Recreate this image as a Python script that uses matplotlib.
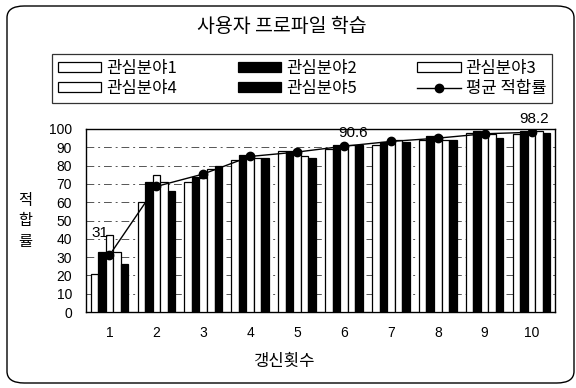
import matplotlib
matplotlib.use("Agg")
import matplotlib.pyplot as plt
import numpy as np
from matplotlib.patches import FancyBboxPatch, Patch
from matplotlib.lines import Line2D

plt.rcParams['font.family'] = ['Noto Sans CJK KR', 'DejaVu Sans']

# Data
updates = [1, 2, 3, 4, 5, 6, 7, 8, 9, 10]
interest1 = [21, 60, 71, 83, 88, 89, 91, 94, 98, 97]
interest2 = [33, 71, 74, 86, 88, 91, 93, 96, 99, 99]
interest3 = [42, 75, 73, 86, 88, 91, 94, 96, 98, 98]
interest4 = [33, 71, 78, 84, 85, 91, 94, 94, 97, 99]
interest5 = [26, 66, 80, 84, 84, 91, 93, 94, 95, 98]
avg_fit = [31, 68.6, 75.4, 85.0, 87.4, 90.6, 93.2, 95.0, 97.4, 98.2]
series_names = ['관심분야1', '관심분야2', '관심분야3', '관심분야4', '관심분야5']
avg_name = '평균 적합률'
labeled_points = {1: '31', 6: '90.6', 10: '98.2'}

series = [interest1, interest2, interest3, interest4, interest5]
fills = ['white', 'black', 'white', 'white', 'black']

W, H = 576, 388
fig = plt.figure(figsize=(W / 100, H / 100), dpi=100)
fig.patch.set_facecolor('white')

# rounded outer frame
frame = FancyBboxPatch((7 / W, 5 / H), 567 / W, 377 / H,
                       boxstyle="round,pad=0,rounding_size=0.03",
                       transform=fig.transFigure, facecolor='none',
                       edgecolor='black', linewidth=1.0)
fig.patches.append(frame)

ax = fig.add_axes([86 / W, 1 - 312 / H, 469 / W, 183 / H])
x = np.array(updates, dtype=float)
bw = 0.16
offsets = (np.arange(5) - 2) * bw
for vals, off, fc in zip(series, offsets, fills):
    ax.bar(x + off, vals, width=bw, facecolor=fc, edgecolor='black',
           linewidth=0.9, zorder=3)

ax.plot(x, avg_fit, color='black', linewidth=1.0, marker='o',
        markersize=6, zorder=5)

label_shift = {1: (-0.2, 8.5), 6: (0.2, 3.5), 10: (0.05, 3.5)}
for k, txt in labeled_points.items():
    i = updates.index(k)
    dx, dy = label_shift[k]
    ax.text(x[i] + dx, avg_fit[i] + dy, txt, ha='center', va='bottom',
            fontsize=11, family='Liberation Sans', zorder=6)

ax.set_xlim(0.5, 10.5)
ax.set_ylim(0, 100)
ax.set_yticks(range(0, 101, 10))
ax.set_xticks(x)
ax.set_xticklabels([str(u) for u in updates], family='Liberation Sans')
ax.tick_params(axis='x', length=0, pad=10, labelsize=10)
ax.tick_params(axis='y', length=0, labelsize=10, pad=10)
for lab in ax.get_yticklabels():
    lab.set_family('Liberation Sans')
ax.yaxis.grid(True, color='#555555', linewidth=0.7,
              linestyle=(0, (8, 4, 2, 4)), zorder=0)
ax.set_axisbelow(True)
for sp in ax.spines.values():
    sp.set_linewidth(1.0)
    sp.set_color('black')

fig.text(284 / W, 1 - 361 / H, '갱신횟수', ha='center', va='center',
         fontsize=12)
fig.text(25 / W, 1 - 221 / H, '적\n합\n률', ha='center', va='center',
         fontsize=11, linespacing=1.25)

fig.text(282 / W, 1 - 27 / H, '사용자 프로파일 학습', ha='center', va='center',
         fontsize=14)

# legend, filled row by row
patches = [Patch(facecolor=fc, edgecolor='black', linewidth=0.9, label=n)
           for fc, n in zip(fills, series_names)]
avg_handle = Line2D([], [], color='black', linewidth=1.0, marker='o',
                    markersize=6, label=avg_name)
handles = [patches[0], patches[3], patches[1], patches[4], patches[2], avg_handle]
leg = fig.legend(handles=handles, ncol=3, loc='lower left', mode='expand',
                 bbox_to_anchor=(52 / W, 1 - 103 / H, 500 / W, 49 / H),
                 frameon=True, fancybox=False, edgecolor='black',
                 fontsize=12, handlelength=2.6, handleheight=0.5,
                 handletextpad=0.3, labelspacing=0.2, borderpad=0.35,
                 borderaxespad=0)
leg.get_frame().set_linewidth(0.9)

fig.savefig('out.png', dpi=100, facecolor='white')
